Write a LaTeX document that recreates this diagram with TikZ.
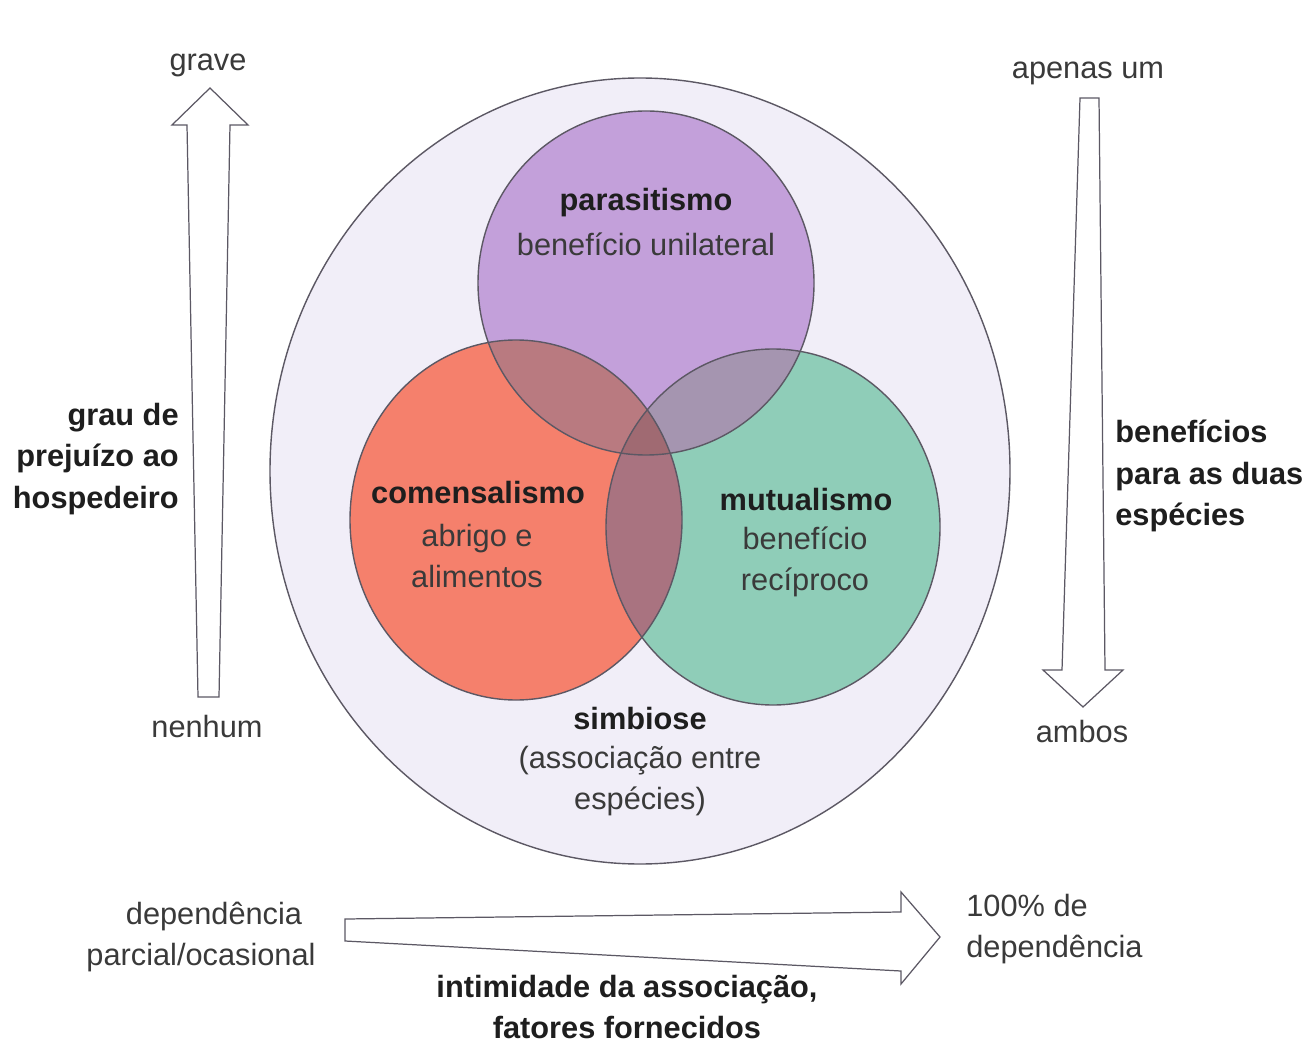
\documentclass[tikz,border=0pt]{standalone}
\usepackage{fontspec}
\setmainfont{Liberation Sans}
\usetikzlibrary{positioning}
\definecolor{inkOne}{HTML}{1E1E1E}
\definecolor{inkTwo}{HTML}{3A3A3A}
\definecolor{lineGray}{HTML}{5C5864}
\definecolor{ringFill}{HTML}{F1EEF8}
\definecolor{sPar}{HTML}{C3A0DA}
\definecolor{sCom}{HTML}{F5806C}
\definecolor{sMut}{HTML}{8FCDB8}
\definecolor{mixPC}{HTML}{B97A80}
\definecolor{mixPM}{HTML}{A595B0}
\definecolor{mixCM}{HTML}{A97380}
\definecolor{mixAll}{HTML}{A06A72}
\tikzset{
  lbl/.style={font=\fontsize{17.5}{23.5}\selectfont, text=inkTwo, align=center, inner sep=0pt},
  lblb/.style={font=\fontsize{17.5}{23.5}\selectfont\bfseries, text=inkOne, align=center, inner sep=0pt},
  rim/.style={draw=lineGray, line width=0.8pt},
  blockarr/.style={draw=lineGray, line width=0.7pt, fill=white, line join=miter},
}

\begin{document}
\begin{tikzpicture}[x=0.02cm, y=-0.02cm]
  \useasboundingbox[fill=white] (0,0) rectangle (1304,1060);
  % circle paths: centre and radii in px of the scan
  \def\pRing{(640,471) ellipse [x radius=370, y radius=393]}
  \def\pPar{(646,283) ellipse [x radius=168, y radius=172]}
  \def\pCom{(516,520) ellipse [x radius=166, y radius=180]}
  \def\pMut{(773,527) ellipse [x radius=167, y radius=178]}
  % ---- simbiose ring
  \fill[ringFill] \pRing;
  \draw[rim] \pRing;
  % ---- three circles, overlaps filled by clipping
  \fill[sCom] \pCom;
  \fill[sMut] \pMut;
  \fill[sPar] \pPar;
  \begin{scope}
    \clip \pCom;
    \fill[mixPC] \pPar;
    \fill[mixCM] \pMut;
  \end{scope}
  \begin{scope}
    \clip \pPar;
    \fill[mixPM] \pMut;
  \end{scope}
  \begin{scope}
    \clip \pCom; \clip \pPar;
    \fill[mixAll] \pMut;
  \end{scope}
  \draw[rim] \pCom;
  \draw[rim] \pMut;
  \draw[rim] \pPar;
  % ---- labels inside
  \node[lblb] (parasit) at (646,203) {parasitismo};
  \node[lbl] (parasitTxt) at (646,244) {benefício unilateral};
  \node[lblb] (comens) at (478,493) {comensalismo};
  \node[lbl] (comensTxt) at (477,556) {abrigo e\\alimentos};
  \node[lblb] (mutual) at (806,500) {mutualismo};
  \node[lbl] (mutualTxt) at (805,562) {benefício\\recíproco};
  \node[lblb] (simb) at (640,719) {simbiose};
  \node[lbl] (simbTxt) at (640,781) {(associação entre\\espécies)};
  % ---- left: prejuízo ao hospedeiro
  \draw[blockarr] (198,697) -- (187,125) -- (172,125) -- (210,88) -- (248,125)
    -- (230,125) -- (219,697) -- cycle;
  \node[lbl] (grave) at (208,65) {grave};
  \node[lbl] (nenhum) at (207,727) {nenhum};
  \node[lblb, align=right, anchor=east] (prejuizo) at (179,459) {grau de\\prejuízo ao\\hospedeiro};
  % ---- right: benefícios
  \draw[blockarr] (1080,98) -- (1062,670) -- (1043,670) -- (1083,707) -- (1123,670)
    -- (1105,670) -- (1099,98) -- cycle;
  \node[lbl] (apenas) at (1088,73) {apenas um};
  \node[lbl] (ambos) at (1082,732) {ambos};
  \node[lblb, align=left, anchor=west] (beneficios) at (1115,476) {benefícios\\para as duas\\espécies};
  % ---- bottom: intimidade da associação
  \draw[blockarr] (345,919) -- (901,912) -- (901,892) -- (940,937) -- (901,984)
    -- (901,971) -- (345,941) -- cycle;
  \node[lbl] (depParc1) at (214,916) {dependência};
  \node[lbl] (depParc2) at (201,958) {parcial/ocasional};
  \node[lbl, align=left, anchor=west] (depTotal) at (966,929) {100\% de\\dependência};
  \node[lblb] (intim) at (627,1007) {intimidade da associação,\\fatores fornecidos};
\end{tikzpicture}
\end{document}
